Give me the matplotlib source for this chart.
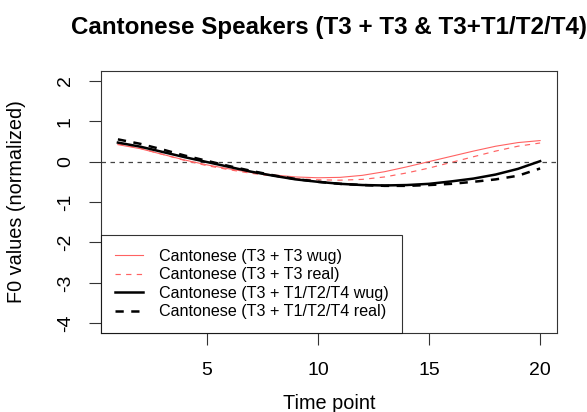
import numpy as np
import matplotlib
matplotlib.use("Agg")
import matplotlib.pyplot as plt

plt.rcParams['font.family'] = ['Liberation Sans', 'DejaVu Sans']
plt.rcParams['axes.unicode_minus'] = False

# Normalised F0 contours, 20 time points per condition
time_points = np.arange(1, 21)
t3_t3_wug = [0.42, 0.32, 0.18, 0.04, -0.08, -0.18, -0.27, -0.33, -0.38, -0.40,
             -0.39, -0.34, -0.25, -0.13, 0.00, 0.13, 0.26, 0.38, 0.47, 0.52]
t3_t3_real = [0.44, 0.33, 0.18, 0.03, -0.10, -0.20, -0.29, -0.36, -0.42, -0.45,
              -0.46, -0.44, -0.38, -0.28, -0.16, -0.02, 0.12, 0.26, 0.38, 0.46]
t3_other_wug = [0.47, 0.37, 0.24, 0.11, -0.01, -0.13, -0.25, -0.35, -0.44, -0.50,
                -0.55, -0.58, -0.59, -0.58, -0.55, -0.49, -0.42, -0.32, -0.18, 0.01]
t3_other_real = [0.55, 0.44, 0.30, 0.15, 0.02, -0.11, -0.23, -0.34, -0.43, -0.50,
                 -0.55, -0.58, -0.60, -0.60, -0.58, -0.55, -0.50, -0.44, -0.35, -0.17]

labels = ["Cantonese (T3 + T3 wug)", "Cantonese (T3 + T3 real)",
          "Cantonese (T3 + T1/T2/T4 wug)", "Cantonese (T3 + T1/T2/T4 real)"]

red = "#ff6262"
frame = "#333333"

fig = plt.figure(figsize=(5.87, 4.12), dpi=100)
ax = fig.add_axes([0.1721, 0.1917, 0.7768, 0.6359])

ax.axhline(0, color="#444444", lw=0.9, linestyle=(0, (3.6, 3.6)))

ax.plot(time_points, t3_t3_wug, color=red, lw=0.8, label=labels[0])
ax.plot(time_points, t3_t3_real, color=red, lw=0.85, linestyle=(0, (4.5, 4.5)), label=labels[1])
ax.plot(time_points, t3_other_wug, color="black", lw=1.8, label=labels[2])
ax.plot(time_points, t3_other_real, color="black", lw=1.8, linestyle=(0, (3.3, 3.0)), label=labels[3])

ax.set_xlim(0.24, 20.76)
ax.set_ylim(-4.24, 2.24)
ax.set_xticks([5, 10, 15, 20])
ax.set_yticks([2, 1, 0, -1, -2, -3, -4])

for s in ax.spines.values():
    s.set_color(frame)
    s.set_linewidth(0.8)

ax.tick_params(axis='both', direction='out', length=8.6, width=0.8,
               color=frame, labelsize=14)
ax.tick_params(axis='x', pad=12.5)
ax.tick_params(axis='y', pad=11)
for lab in ax.get_yticklabels():
    lab.set_rotation(90)
    lab.set_va('center')

# title is wider than the figure, so its last character runs off the right edge
ax.set_title("Cantonese Speakers (T3 + T3 & T3+T1/T2/T4)",
             fontsize=17.4, fontweight='bold', pad=27)
ax.set_xlabel("Time point", fontsize=14.3)
ax.set_ylabel("F0 values (normalized)", fontsize=14.3)
ax.xaxis.set_label_coords(0.5, -0.268)
ax.yaxis.set_label_coords(-0.185, 0.5)
ax.xaxis.label.set_va('center')
ax.yaxis.label.set_va('center')

leg = ax.legend(loc='lower left', bbox_to_anchor=(0, 0), borderaxespad=0,
                fontsize=11.6, fancybox=False, edgecolor='black',
                handlelength=1.75, handletextpad=1.0, labelspacing=0.22,
                borderpad=0.85)
leg.get_frame().set_linewidth(0.8)

fig.savefig("out.png", dpi=100)
